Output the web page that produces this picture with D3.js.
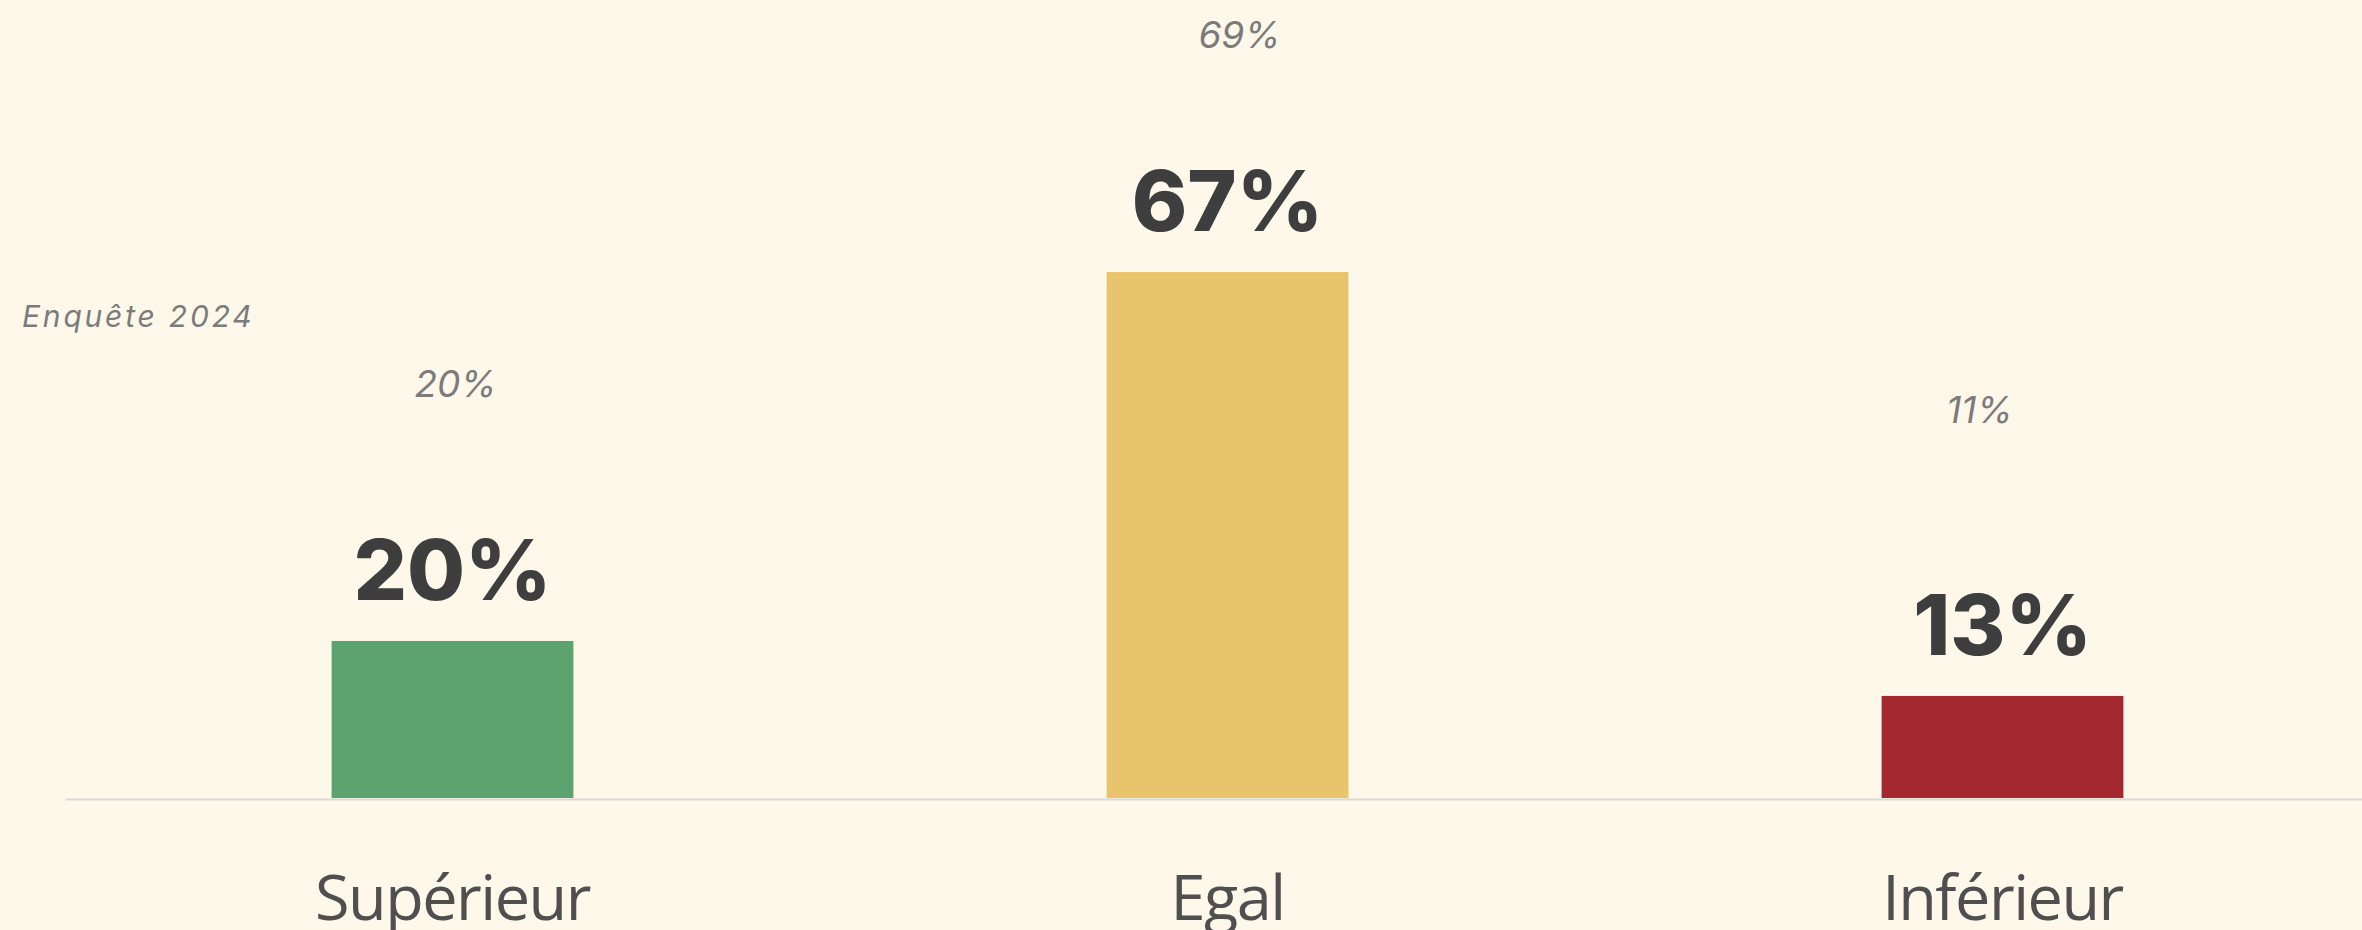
<!DOCTYPE html>
<html>
<head>
<meta charset="utf-8">
<script src="https://cdn.jsdelivr.net/npm/d3@7"></script>
<style>
  html, body { margin: 0; padding: 0; background: #fef8ea; overflow: hidden; }
  svg { display: block; }
</style>
</head>
<body>
<svg id="chart" width="2362" height="930"></svg>
<script>
// ---- data ----
const categories = ["Supérieur", "Egal", "Inférieur"];
const values2025 = [20, 67, 13];          // current survey (bars)
const values2024 = [20, 69, 11];          // previous survey (italic labels)
const previousLabel = "Enquête 2024";

// ---- styling / layout (not data) ----
const barColors = ["#5ca370", "#e8c46c", "#a3292e"];
const prevDx = [3, 12, -23];
const prevDy = [-244, -208, -289];
const W = 2362, H = 930;

const svg = d3.select("#chart");
svg.append("rect").attr("width", W).attr("height", H).attr("fill", "#fef8ea");

const x = d3.scaleBand()
  .domain(categories)
  .range([65, 2390])
  .paddingInner(0.688)
  .paddingOuter(0.344);

const y = d3.scaleLinear().domain([0, 100]).range([798, 13]);

// bars
svg.append("g").selectAll("rect")
  .data(categories)
  .join("rect")
  .attr("x", d => x(d))
  .attr("width", x.bandwidth())
  .attr("y", (d, i) => y(values2025[i]))
  .attr("height", (d, i) => y(0) - y(values2025[i]))
  .attr("fill", (d, i) => barColors[i]);

// baseline axis
const xAxis = d3.axisBottom(x).tickSize(0).tickPadding(0).tickFormat("");
const axisG = svg.append("g").attr("transform", `translate(0,${y(0) + 1})`).call(xAxis);
axisG.select(".domain").attr("stroke", "#d9d9d9").attr("stroke-width", 2);

// category labels
svg.append("g").selectAll("text")
  .data(categories)
  .join("text")
  .attr("x", d => x(d) + x.bandwidth() / 2)
  .attr("y", 920)
  .attr("text-anchor", "middle")
  .attr("font-family", "'Open Sans', 'Noto Sans', sans-serif")
  .attr("font-size", 63)
  .attr("letter-spacing", -1.5)
  .attr("fill", "#4f4f4f")
  .text(d => d);

// bold value labels
svg.append("g").selectAll("text")
  .data(categories)
  .join("text")
  .attr("x", d => x(d) + x.bandwidth() / 2)
  .attr("y", (d, i) => y(values2025[i]) - 41)
  .attr("text-anchor", "middle")
  .attr("font-family", "Inter, 'Open Sans', sans-serif")
  .attr("font-weight", 800)
  .attr("font-size", 84)
  .attr("fill", "#3e3e3e")
  .text((d, i) => values2025[i] + "%");

// previous survey italic labels
svg.append("g").selectAll("text")
  .data(categories)
  .join("text")
  .attr("x", (d, i) => x(d) + x.bandwidth() / 2 + prevDx[i])
  .attr("y", (d, i) => y(values2024[i]) + prevDy[i])
  .attr("text-anchor", "middle")
  .attr("font-family", "Inter, 'Open Sans', sans-serif")
  .attr("font-style", "italic")
  .attr("font-weight", 400)
  .attr("font-size", 37)
  .attr("fill", "#7b7b7b")
  .text((d, i) => values2024[i] + "%");

// legend-like note
svg.append("text")
  .attr("x", 22)
  .attr("y", 327)
  .attr("font-family", "Inter, 'Open Sans', sans-serif")
  .attr("font-style", "italic")
  .attr("font-size", 30)
  .attr("letter-spacing", 2.8)
  .attr("fill", "#7b7b7b")
  .text(previousLabel);
</script>
</body>
</html>
